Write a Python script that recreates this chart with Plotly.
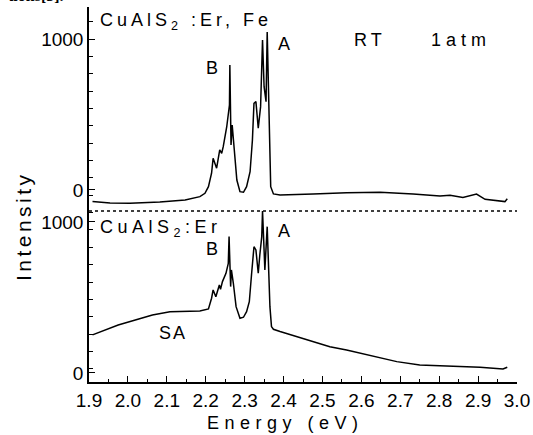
import plotly.graph_objects as go

# ---- data ----
energy_top = [1.909, 1.954, 2.005, 2.082, 2.147, 2.185, 2.198, 2.207, 2.215, 2.219,
              2.228, 2.236, 2.241, 2.245, 2.254, 2.261, 2.262, 2.265, 2.268, 2.273,
              2.280, 2.288, 2.297, 2.305, 2.314, 2.320, 2.324, 2.329, 2.335, 2.341,
              2.344, 2.346, 2.350, 2.355, 2.358, 2.363, 2.367, 2.374, 2.391, 2.476,
              2.562, 2.648, 2.733, 2.802, 2.828, 2.861, 2.896, 2.918, 2.948, 2.969, 2.975]
intensity_top = [-77, -86, -88, -79, -66, -44, -22, 22, 111, 210,
                 144, 265, 243, 287, 419, 563, 828, 298, 430, 265,
                 66, -11, -15, 22, 121, 331, 574, 585, 409, 552,
                 773, 993, 684, 585, 1046, 331, 22, -26, -33, -26,
                 -18, -15, -26, -40, -35, -50, -27, -62, -73, -77, -58]

energy_bottom = [1.909, 1.931, 1.975, 2.019, 2.063, 2.108, 2.152, 2.185, 2.207, 2.215,
                 2.219, 2.226, 2.235, 2.238, 2.243, 2.252, 2.258, 2.260, 2.264, 2.266,
                 2.271, 2.278, 2.288, 2.297, 2.305, 2.312, 2.318, 2.324, 2.329, 2.335,
                 2.339, 2.344, 2.346, 2.352, 2.358, 2.361, 2.365, 2.369, 2.374, 2.391,
                 2.434, 2.476, 2.519, 2.562, 2.605, 2.648, 2.691, 2.750, 2.794, 2.835,
                 2.905, 2.964, 2.975]
intensity_bottom = [252, 274, 318, 351, 384, 406, 411, 411, 424, 495,
                    550, 505, 583, 554, 605, 660, 726, 903, 572, 682,
                    594, 439, 362, 369, 406, 472, 660, 836, 815, 660,
                    781, 903, 1073, 682, 969, 728, 439, 307, 289, 274,
                    240, 207, 174, 152, 126, 104, 75, 53, 48, 42,
                    38, 26, 38]

x_ticks = [1.9, 2.0, 2.1, 2.2, 2.3, 2.4, 2.5, 2.6, 2.7, 2.8, 2.9, 3.0]
x_tick_labels = ["1.9", "2.0", "2.1", "2.2", "2.3", "2.4", "2.5", "2.6", "2.7", "2.8", "2.9", "3.0"]
y_tick_values = [0, 1000]
y_tick_labels = ["0", "1000"]

TOP_OFFSET = 1212      # vertical shift of the upper spectrum
SEPARATOR = 1073       # dotted separator level

# ---- figure ----
TXT = "Liberation Sans, Arial, sans-serif"
TICKFONT = dict(family=TXT, size=19, color="black")

fig = go.Figure()
fig.add_trace(go.Scatter(x=energy_top, y=[v + TOP_OFFSET for v in intensity_top],
                         mode="lines", line=dict(color="black", width=1.5),
                         name="CuAlS2:Er,Fe", showlegend=False))
fig.add_trace(go.Scatter(x=energy_bottom, y=intensity_bottom,
                         mode="lines", line=dict(color="black", width=1.5),
                         name="CuAlS2:Er", showlegend=False))

fig.add_shape(type="line", xref="x", yref="y", x0=1.9, x1=3.0, y0=SEPARATOR, y1=SEPARATOR,
              line=dict(color="black", width=1.5, dash="dot"))

ytv = y_tick_values + [v + TOP_OFFSET for v in y_tick_values]
ytt = y_tick_labels + y_tick_labels

fig.update_layout(
    width=533, height=435,
    margin=dict(l=89, r=16, t=7, b=53),
    paper_bgcolor="white", plot_bgcolor="white",
    xaxis=dict(range=[1.9, 3.0], tickmode="array", tickvals=x_ticks, ticktext=x_tick_labels,
               ticks="inside", ticklen=6, tickwidth=1.3, tickcolor="black",
               showline=True, linecolor="black", linewidth=1.5, mirror=False,
               showgrid=False, zeroline=False, tickfont=TICKFONT, automargin=False,
               minor=dict(ticks="inside", ticklen=3, tickwidth=1.2, tickcolor="black",
                          tickmode="linear", tick0=1.95, dtick=0.1)),
    yaxis=dict(range=[-60, 2424], tickmode="array", tickvals=ytv, ticktext=ytt,
               ticks="inside", ticklen=6, tickwidth=1.3, tickcolor="black",
               showline=True, linecolor="black", linewidth=1.5,
               showgrid=False, zeroline=False, tickfont=TICKFONT, automargin=False,
               minor=dict(ticks="inside", ticklen=4, tickwidth=1.2, tickcolor="black",
                          tickmode="linear", tick0=TOP_OFFSET + 1000, dtick=115)),
)

def ann(text, x, y, size=18, xanchor="center", spacing=0, family=TXT, ref="data", angle=0):
    t = text if not spacing else f'<span style="letter-spacing:{spacing}px">{text}</span>'
    xr, yr = ("x", "y") if ref == "data" else ("paper", "paper")
    fig.add_annotation(text=t, x=x, y=y, xref=xr, yref=yr, showarrow=False,
                       xanchor=xanchor, yanchor="middle", textangle=angle,
                       font=dict(family=family, size=size, color="black"))

# axis titles
ann("Energy (eV)", 0.458, -0.109, size=18, spacing=5.5, ref="paper")
ann("Intensity", -0.154, 0.416, size=21, spacing=3.5, ref="paper", angle=-90)

# panel labels
ann("CuAlS<sub>2</sub> :Er, Fe", 1.922, 2325, xanchor="left", spacing=4)
ann("RT", 2.621, 2205, spacing=4)
ann("1atm", 2.855, 2205, spacing=5)
ann("B", 2.217, 2018)
ann("A", 2.401, 2179)
ann("CuAlS<sub>2</sub>:Er", 1.922, 957, xanchor="left", spacing=4.5)
ann("B", 2.217, 818)
ann("A", 2.401, 937)
ann("SA", 2.117, 262, spacing=2)

fig.add_annotation(text="<b>tions[5].</b>", x=-0.195, y=1.0, xref="paper", yref="paper",
                   xanchor="left", yanchor="bottom", yshift=1, showarrow=False,
                   font=dict(family="Liberation Serif, Times New Roman, serif", size=16, color="black"))

fig.write_html("out.html", config={"displayModeBar": False},
               post_script="document.body.style.margin='0';")
